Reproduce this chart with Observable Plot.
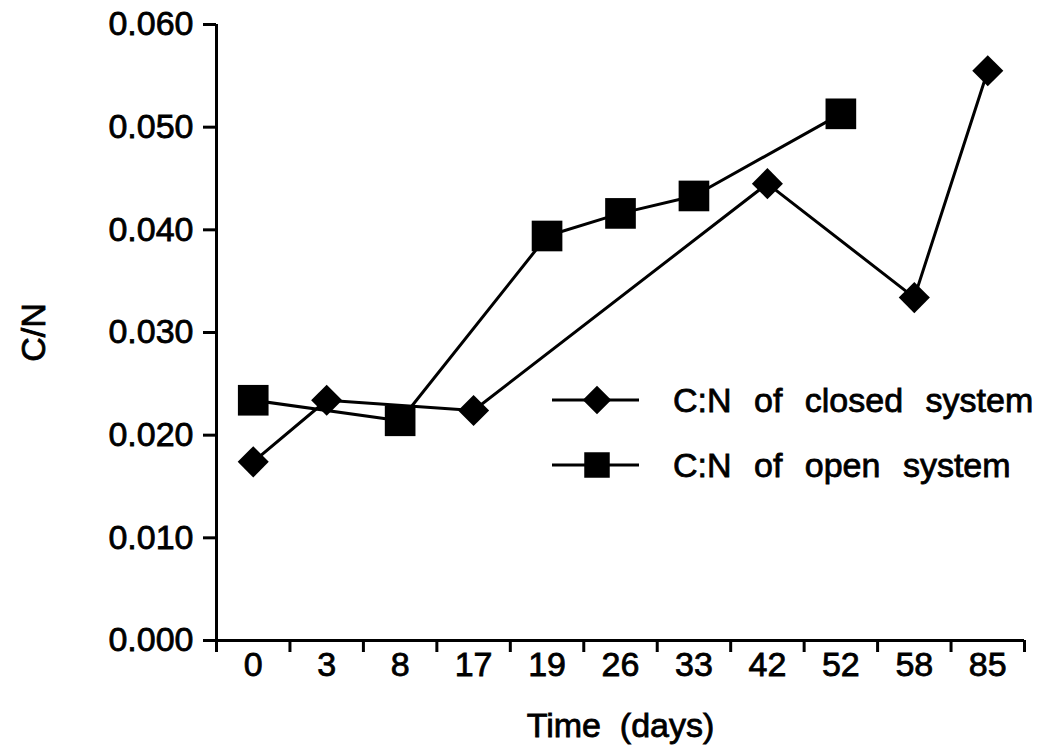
<!DOCTYPE html>
<html><head><meta charset="utf-8">
<script src="https://cdn.jsdelivr.net/npm/d3@7"></script>
<script src="https://cdn.jsdelivr.net/npm/@observablehq/plot@0.6"></script>
<style>
body{margin:0;background:#fff;}
#wrap{position:relative;width:1052px;height:752px;font-family:"Liberation Sans",Arial,sans-serif;color:#000;}
#wrap svg text{stroke:#000;stroke-width:0.8px;}
.lrow{position:absolute;left:552px;height:40px;display:flex;align-items:center;}
.lrow svg{display:block;}
.lrow span{margin-left:34px;font-size:34px;word-spacing:13px;white-space:nowrap;-webkit-text-stroke:0.8px #000;}
</style></head><body><div id="wrap"></div>
<script>
// categories (days)
const days = ["0","3","8","17","19","26","33","42","52","58","85"];
// closed system series
const closedDays = ["0","3","17","42","58","85"];
const closedCN = [0.0174,0.0234,0.0224,0.0445,0.0334,0.0555];
// open system series
const openDays = ["0","8","19","26","33","52"];
const openCN = [0.0234,0.0214,0.0394,0.0416,0.0433,0.0513];
// y tick values
const yTicks = [0,0.01,0.02,0.03,0.04,0.05,0.06];
const seriesNames = ["C:N of closed system","C:N of open system"];

const closed = closedDays.map((d,i)=>({i: days.indexOf(d), v: closedCN[i]}));
const open = openDays.map((d,i)=>({i: days.indexOf(d), v: openCN[i]}));
const boundaries = d3.range(days.length+1).map(i=>i-0.5);

const plot = Plot.plot({
  width: 1052, height: 752,
  marginLeft: 216, marginRight: 28, marginTop: 24, marginBottom: 112,
  style: {fontFamily: "'Liberation Sans', Arial, sans-serif", fontSize: "34px", color: "#000", background: "#fff", overflow: "visible"},
  x: {domain: [-0.5, days.length-0.5]},
  y: {domain: [0, 0.06]},
  marks: [
    Plot.axisY(yTicks, {tickSize: 13, tickPadding: 10, tickFormat: d3.format(".3f"), strokeWidth: 3, fontSize: 34, label: "C/N", labelAnchor: "center", labelArrow: "none", labelOffset: 196}),
    Plot.axisX(boundaries, {tickSize: 12, tickFormat: () => "", strokeWidth: 3, label: null}),
    Plot.axisX(d3.range(days.length), {tickSize: 0, tickPadding: 11, tickFormat: i => days[i], fontSize: 34, label: "Time\u00a0 (days)", labelAnchor: "center", labelArrow: "none", labelOffset: 96}),
    Plot.ruleY([0], {strokeWidth: 3}),
    Plot.ruleX([-0.5], {strokeWidth: 3}),
    Plot.line(closed, {x: "i", y: "v", stroke: "#000", strokeWidth: 3}),
    Plot.line(open, {x: "i", y: "v", stroke: "#000", strokeWidth: 3}),
    Plot.dot(closed, {x: "i", y: "v", symbol: "diamond2", r: 14, fill: "#000", stroke: "none"}),
    Plot.dot(open, {x: "i", y: "v", symbol: "square", r: 17.3, fill: "#000", stroke: "none"})
  ]
});
const wrap = document.getElementById("wrap");
wrap.appendChild(plot);

// legend
const symbols = [d3.symbolDiamond2, d3.symbolSquare];
const sizes = [520, 650];
const tops = [380, 445];
seriesNames.forEach((name, k) => {
  const row = document.createElement("div");
  row.className = "lrow";
  row.style.top = tops[k] + "px";
  const svg = d3.create("svg").attr("width", 87).attr("height", 40);
  svg.append("line").attr("x1", 0).attr("x2", 87).attr("y1", 20).attr("y2", 20).attr("stroke", "#000").attr("stroke-width", 3);
  svg.append("path").attr("transform", "translate(45,20)").attr("d", d3.symbol(symbols[k], sizes[k])()).attr("fill", "#000");
  row.appendChild(svg.node());
  const span = document.createElement("span");
  span.textContent = name;
  row.appendChild(span);
  wrap.appendChild(row);
});
</script>
</body></html>
